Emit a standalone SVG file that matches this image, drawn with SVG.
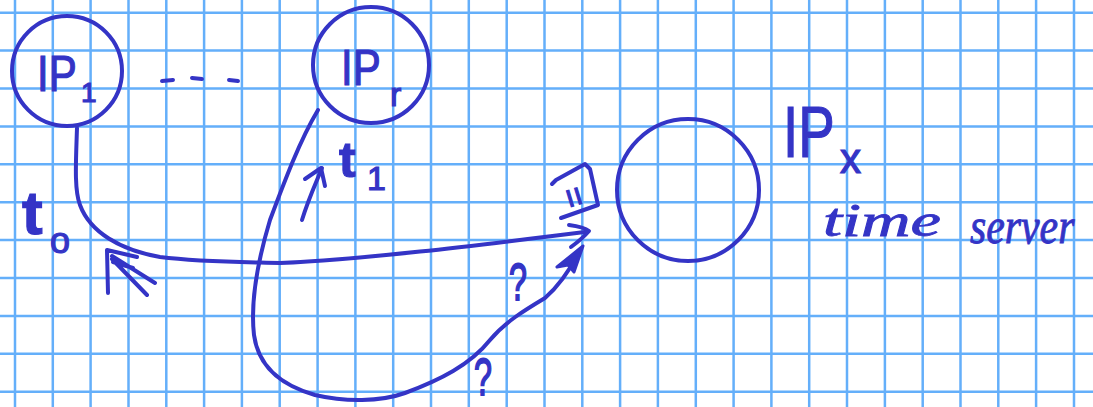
<svg xmlns="http://www.w3.org/2000/svg" width="1093" height="407" viewBox="0 0 1093 407">
<style>
.grid{stroke:#64affa;stroke-width:2.5;fill:none}
.ink{stroke:#3434c6;stroke-width:4;fill:none;stroke-linecap:round;stroke-linejoin:round}
.inkf{fill:#3434c6;stroke:#3434c6;stroke-width:3;stroke-linejoin:round}
.t{fill:#3434c6;stroke:#3434c6;stroke-width:1.2;font-family:"Liberation Sans",Arial,sans-serif}
.h{fill:#3434c6;stroke:#3434c6;stroke-width:0.8;font-family:"Liberation Serif","Times New Roman",serif;font-style:italic}
</style>
<rect width="1093" height="407" fill="#ffffff"/>
<g id="grid" class="grid">
<path d="M15 0V407M52.8 0V407M90.6 0V407M128.5 0V407M166.3 0V407M204.1 0V407M241.9 0V407M279.7 0V407M317.6 0V407M355.4 0V407M393.2 0V407M431 0V407M468.8 0V407M506.7 0V407M544.5 0V407M582.3 0V407M620.1 0V407M657.9 0V407M695.8 0V407M733.6 0V407M771.4 0V407M809.2 0V407M847 0V407M884.9 0V407M922.7 0V407M960.5 0V407M998.3 0V407M1036.1 0V407M1074 0V407"/>
<path d="M0 12.7H1093M0 50.6H1093M0 88.5H1093M0 126.4H1093M0 164.3H1093M0 202.2H1093M0 240.1H1093M0 278H1093M0 315.9H1093M0 353.8H1093M0 391.7H1093"/>
</g>
<g id="node-ip1">
<circle class="ink" cx="67" cy="71" r="55"/>
<text class="t" x="0" y="0" font-size="50" transform="translate(37 91) scale(0.84 1)">IP</text>
<text class="t" x="81" y="102" font-size="28">1</text>
</g>
<g id="ellipsis" class="ink">
<path d="M162 81L173 80M192 78L202 79M229 80L238 81"/>
</g>
<g id="node-ipr">
<circle class="ink" cx="371" cy="65" r="58"/>
<text class="t" x="0" y="0" font-size="50" transform="translate(341 85) scale(0.84 1)">IP</text>
<text class="t" x="390" y="106" font-size="34">r</text>
</g>
<g id="node-ipx">
<circle class="ink" cx="688" cy="190" r="71"/>
<text class="t" x="0" y="0" font-size="72" transform="translate(783 157) scale(0.76 1)">IP</text>
<text class="t" x="840" y="173" font-size="42">x</text>
<text class="h" x="823" y="236" font-size="46" textLength="118" lengthAdjust="spacingAndGlyphs">time</text>
<text class="h" x="0" y="0" font-size="44" transform="translate(970 243) scale(0.95 1.15)">server</text>
</g>
<g id="connectors">
<path class="ink" d="M77 128C76 160 74 190 80 205C90 232 120 250 160 257C200 262 240 262 280 263C360 260 480 245 585 232"/>
<path class="ink" d="M569 225Q584 227 589 231Q582 239 571 247" stroke-width="5"/>
<path class="ink" d="M318 110C300 140 285 180 270 220C258 260 250 300 254 335C258 365 280 385 315 395C345 402 380 402 405 393C440 380 470 365 490 340C505 322 525 310 545 298C560 285 570 270 580 250"/>
<path class="inkf" d="M583 246L557 267L568 265L574 272Z"/>
<path class="ink" d="M302 220C308 200 315 185 322 168"/>
<path class="ink" d="M305 179L321 168L325 186"/>
<path class="ink" d="M107 250L108 293M107 250L137 257M112 256L155 283M112 259L147 295M113 262L133 268"/>
<path class="ink" d="M552 184L556 180L585 164L590 169L598 205L561 218"/>
<text class="t" x="0" y="0" font-size="34" text-anchor="middle" dominant-baseline="central" transform="translate(575 197) rotate(73)">=</text>
</g>
<g id="labels">
<text class="t" x="22" y="234" font-size="62" font-weight="bold">t</text>
<text class="t" x="50" y="253" font-size="36">o</text>
<text class="t" x="339" y="177" font-size="50" font-weight="bold">t</text>
<text class="t" x="367" y="190" font-size="34">1</text>
<text class="t" x="0" y="0" font-size="34" transform="translate(509 300) scale(0.95 1.5)">?</text>
<text class="t" x="0" y="0" font-size="34" transform="translate(474 395) scale(0.95 1.5)">?</text>
</g>
</svg>
